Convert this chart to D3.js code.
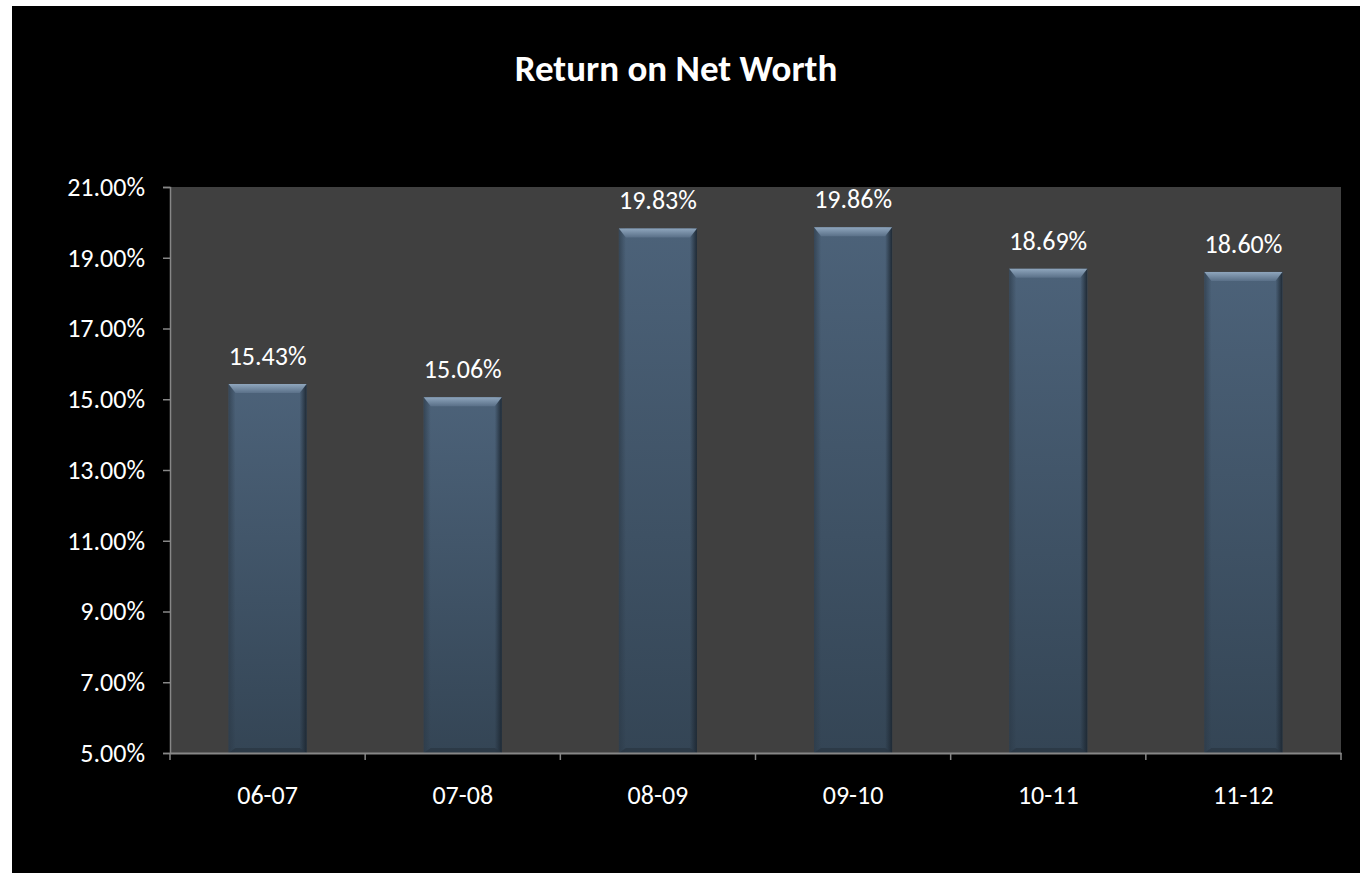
<!DOCTYPE html>
<html>
<head>
<meta charset="utf-8">
<script src="https://cdn.jsdelivr.net/npm/d3@7"></script>
<style>
  body { margin: 0; background: #fff; }
  svg { display: block; }
  text { font-family: Carlito, Calibri, 'Open Sans', sans-serif; fill: #fff; }
</style>
</head>
<body>
<div id="chart"></div>
<script>
// datos
var periodos = ['06-07', '07-08', '08-09', '09-10', '10-11', '11-12']
var rentabilidad = [15.43, 15.06, 19.83, 19.86, 18.69, 18.6]
var ticksY = [5, 7, 9, 11, 13, 15, 17, 19, 21]
var titulo = 'Return on Net Worth'

var width = 1360
var height = 873
var margin = { left: 170, right: 19, top: 187, bottom: 120 } // area de trazado

var svg = d3
  .select('#chart')
  .append('svg')
  .attr('width', width)
  .attr('height', height)

// fondo negro del grafico
svg.append('rect').attr('x', 12).attr('y', 6).attr('width', width - 12).attr('height', height - 6).attr('fill', '#000')

var x = d3
  .scaleBand()
  .domain(periodos)
  .range([margin.left, width - margin.right])
  .paddingInner(0.6)
  .paddingOuter(0.3)

var y = d3.scaleLinear().domain([5, 21]).range([height - margin.bottom, margin.top])

// area de trazado gris
svg
  .append('rect')
  .attr('x', margin.left)
  .attr('y', y(21))
  .attr('width', width - margin.right - margin.left)
  .attr('height', y(5) - y(21))
  .attr('fill', '#404040')

// gradientes para las barras
var defs = svg.append('defs')
var gCuerpo = defs.append('linearGradient').attr('id', 'cuerpo').attr('x1', 0).attr('y1', 0).attr('x2', 0).attr('y2', 1)
gCuerpo.append('stop').attr('offset', '0%').attr('stop-color', '#4c6279')
gCuerpo.append('stop').attr('offset', '100%').attr('stop-color', '#344555')

var gTop = defs.append('linearGradient').attr('id', 'bisel').attr('x1', 0).attr('y1', 0).attr('x2', 0).attr('y2', 1)
gTop.append('stop').attr('offset', '0%').attr('stop-color', '#8fa6bd')
gTop.append('stop').attr('offset', '100%').attr('stop-color', '#5a7088')

var gIzq = defs.append('linearGradient').attr('id', 'izq').attr('x1', 0).attr('y1', 0).attr('x2', 1).attr('y2', 0)
gIzq.append('stop').attr('offset', '0%').attr('stop-color', '#2c3a48')
gIzq.append('stop').attr('offset', '100%').attr('stop-color', '#2c3a48').attr('stop-opacity', 0)

var gDer = defs.append('linearGradient').attr('id', 'der').attr('x1', 1).attr('y1', 0).attr('x2', 0).attr('y2', 0)
gDer.append('stop').attr('offset', '0%').attr('stop-color', '#1f2a35')
gDer.append('stop').attr('offset', '100%').attr('stop-color', '#1f2a35').attr('stop-opacity', 0)

var datos = periodos.map((p, i) => ({ periodo: p, valor: rentabilidad[i] }))
var bisel = 9
var lado = 7

var barras = svg.selectAll('g.barra').data(datos).enter().append('g').attr('class', 'barra')

barras
  .append('rect')
  .attr('x', (d) => x(d.periodo))
  .attr('y', (d) => y(d.valor))
  .attr('width', x.bandwidth())
  .attr('height', (d) => y(5) - y(d.valor))
  .attr('fill', 'url(#cuerpo)')

// lados oscuros
barras
  .append('rect')
  .attr('x', (d) => x(d.periodo))
  .attr('y', (d) => y(d.valor))
  .attr('width', lado)
  .attr('height', (d) => y(5) - y(d.valor))
  .attr('fill', 'url(#izq)')
  .attr('opacity', 0.7)

barras
  .append('rect')
  .attr('x', (d) => x(d.periodo) + x.bandwidth() - lado)
  .attr('y', (d) => y(d.valor))
  .attr('width', lado)
  .attr('height', (d) => y(5) - y(d.valor))
  .attr('fill', 'url(#der)')

// bisel superior
barras
  .append('polygon')
  .attr('points', function (d) {
    var x0 = x(d.periodo)
    var x1 = x0 + x.bandwidth()
    var y0 = y(d.valor)
    return [[x0, y0], [x1, y0], [x1 - lado, y0 + bisel], [x0 + lado, y0 + bisel]].join(' ')
  })
  .attr('fill', 'url(#bisel)')

// bisel inferior
barras
  .append('polygon')
  .attr('points', function (d) {
    var x0 = x(d.periodo)
    var x1 = x0 + x.bandwidth()
    var yb = y(5)
    return [[x0, yb], [x1, yb], [x1 - lado, yb - 5], [x0 + lado, yb - 5]].join(' ')
  })
  .attr('fill', '#2a3744')
  .attr('opacity', 0.8)

// etiquetas de valor
svg
  .selectAll('text.valor')
  .data(datos)
  .enter()
  .append('text')
  .attr('class', 'valor')
  .attr('x', (d) => x(d.periodo) + x.bandwidth() / 2)
  .attr('y', (d) => y(d.valor) - 19)
  .attr('text-anchor', 'middle')
  .style('font-size', '26px')
  .text((d) => d.valor.toFixed(2) + '%')

// ejes
var colorEje = '#878787'
var ejeY = svg
  .append('g')
  .attr('transform', 'translate(' + margin.left + ',0)')
  .call(
    d3
      .axisLeft(y)
      .tickValues(ticksY)
      .tickSize(7)
      .tickPadding(18)
      .tickFormat((d) => d.toFixed(2) + '%'),
  )
ejeY.selectAll('path, line').attr('stroke', colorEje).attr('stroke-width', 1.5)
ejeY.selectAll('text').style('font-size', '26px').attr('fill', '#fff').attr('font-family', null)

var ejeX = svg
  .append('g')
  .attr('transform', 'translate(0,' + y(5) + ')')
  .call(d3.axisBottom(x).tickSize(0).tickPadding(33))
ejeX.select('path').attr('stroke', colorEje).attr('stroke-width', 2)
ejeX.selectAll('text').style('font-size', '26px').attr('fill', '#fff').attr('font-family', null)

// marcas entre categorias
var limites = d3.range(periodos.length + 1).map((i) => margin.left + (i * (width - margin.right - margin.left)) / periodos.length)
svg
  .append('g')
  .selectAll('line')
  .data(limites)
  .enter()
  .append('line')
  .attr('x1', (d) => d)
  .attr('x2', (d) => d)
  .attr('y1', y(5))
  .attr('y2', y(5) + 7)
  .attr('stroke', colorEje)
  .attr('stroke-width', 1.5)

// titulo
svg
  .append('text')
  .attr('x', 676)
  .attr('y', 81)
  .attr('text-anchor', 'middle')
  .style('font-size', '37px')
  .style('font-weight', 'bold')
  .text(titulo)
</script>
</body>
</html>
